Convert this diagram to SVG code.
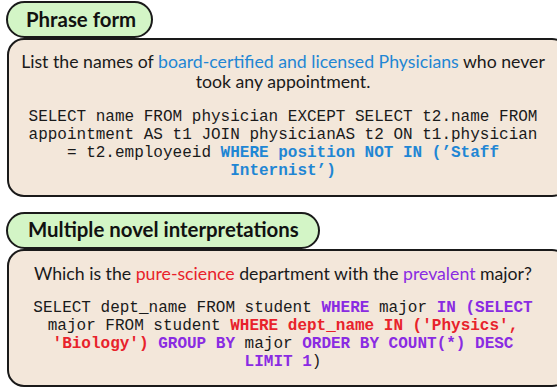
<svg xmlns="http://www.w3.org/2000/svg" width="557" height="387" viewBox="0 0 557 387">
<style>
.box{fill:#f3e7da;stroke:#1a1a1a;stroke-width:2}
.pill{fill:#d3f5c6;stroke:#1a1a1a;stroke-width:2}
.title{font-family:Lato,"Liberation Sans",sans-serif;font-weight:bold;font-size:20.4px;fill:#111}
.q{font-family:Lato,"Liberation Sans",sans-serif;font-size:17.7px;fill:#1a1a1a;text-anchor:middle}
.code{font-family:"Liberation Mono","Courier New",monospace;font-size:16px;fill:#1a1a1a;text-anchor:middle}
.kb{font-weight:bold;fill:#1f86d4}
.kp{font-weight:bold;fill:#8a2be2}
.kr{font-weight:bold;fill:#e8222b}
.blue{fill:#1f86d4}
.purple{fill:#8a2be2}
.red{fill:#e8222b}
</style>
<g id="panel1">
<rect class="box" x="8" y="39" width="560" height="157" rx="16"/>
<rect class="pill" x="7" y="2" width="145" height="35" rx="17.5"/>
<text class="title" x="26" y="27">Phrase form</text>
<text class="q" x="283" y="68">List the names of <tspan class="blue">board-certified and licensed Physicians</tspan> who never</text>
<text class="q" x="283" y="88">took any appointment.</text>
<text class="code" x="283" y="121">SELECT name FROM physician EXCEPT SELECT t2.name FROM</text>
<text class="code" x="283" y="139">appointment AS t1 JOIN physicianAS t2 ON t1.physician</text>
<text class="code" x="283" y="157">= t2.employeeid <tspan class="kb">WHERE position NOT IN (’Staff</tspan></text>
<text class="code kb" x="283" y="175">Internist’)</text>
</g>
<g id="panel2">
<rect class="box" x="8" y="250" width="560" height="136" rx="16"/>
<rect class="pill" x="7" y="213" width="312" height="35" rx="17.5"/>
<text class="title" x="28" y="237">Multiple novel interpretations</text>
<text class="q" x="283" y="280">Which is the <tspan class="red">pure-science</tspan> department with the <tspan class="purple">prevalent</tspan> major?</text>
<text class="code" x="283" y="312">SELECT dept_name FROM student <tspan class="kp">WHERE</tspan> major <tspan class="kp">IN (SELECT</tspan></text>
<text class="code" x="283" y="330">major FROM student <tspan class="kr">WHERE dept_name IN ('Physics',</tspan></text>
<text class="code" x="283" y="348"><tspan class="kr">'Biology')</tspan> <tspan class="kp">GROUP BY</tspan> major <tspan class="kp">ORDER BY COUNT(*) DESC</tspan></text>
<text class="code" x="283" y="366"><tspan class="kp">LIMIT 1</tspan>)</text>
</g>
</svg>
